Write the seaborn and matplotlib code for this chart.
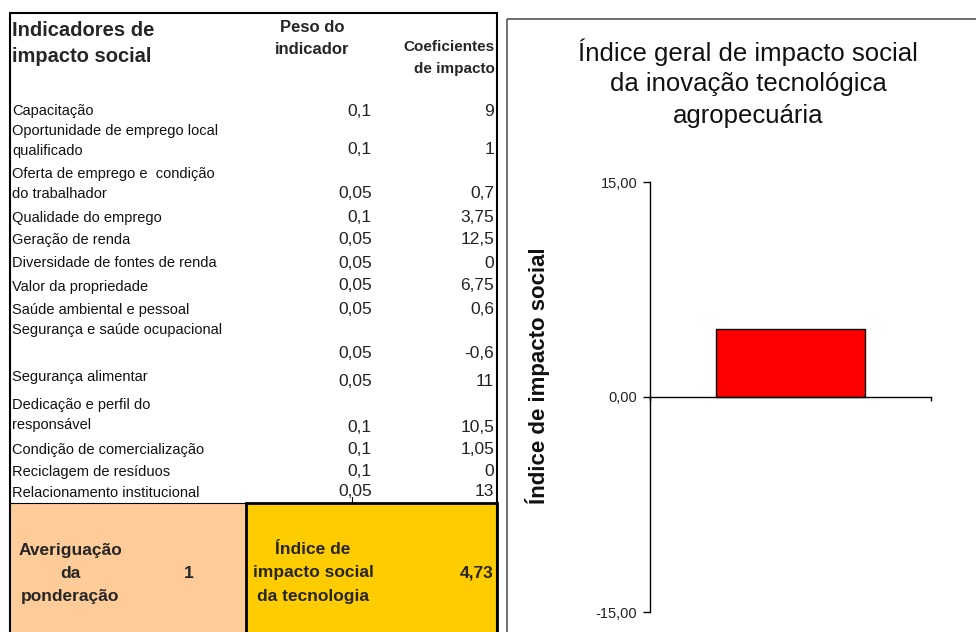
import matplotlib
matplotlib.use("Agg")
import matplotlib.pyplot as plt
import seaborn as sns
from matplotlib.patches import Rectangle
from matplotlib.ticker import FuncFormatter

sns.set_theme(style="white")
plt.rcParams["font.family"] = ["Liberation Sans", "DejaVu Sans"]

# --- data ---
indicators = [
    "Capacitação",
    "Oportunidade de emprego local\nqualificado",
    "Oferta de emprego e  condição\ndo trabalhador",
    "Qualidade do emprego",
    "Geração de renda",
    "Diversidade de fontes de renda",
    "Valor da propriedade",
    "Saúde ambiental e pessoal",
    "Segurança e saúde ocupacional",
    "Segurança alimentar",
    "Dedicação e perfil do\nresponsável",
    "Condição de comercialização",
    "Reciclagem de resíduos",
    "Relacionamento institucional",
]
weights = ["0,1", "0,1", "0,05", "0,1", "0,05", "0,05", "0,05",
           "0,05", "0,05", "0,05", "0,1", "0,1", "0,1", "0,05"]
coefficients = ["9", "1", "0,7", "3,75", "12,5", "0", "6,75",
                "0,6", "-0,6", "11", "10,5", "1,05", "0", "13"]
weight_total = "1"
index_label = "4,73"

bar_category = ["Tecnologia"]
bar_value = [4.73]
y_ticks = [-15, 0, 15]

# --- layout (pixel rows of the table) ---
label_y = [111, 131, 174, 218, 240, 263, 287, 310, 330, 377, 405, 450, 472, 493]
value_y = [111, 150, 194, 218, 240, 263, 286, 310, 353, 381, 427, 449, 471, 491]

W, H = 976, 632
fig = plt.figure(figsize=(W / 100, H / 100), dpi=100)
fig.patch.set_facecolor("white")

bg = fig.add_axes([0, 0, 1, 1], zorder=0)
bg.set_xlim(0, W)
bg.set_ylim(H, 0)
bg.axis("off")

# table frame and bottom cells
bg.add_patch(Rectangle((10, 503), 236, 140, facecolor="#FFCC99", edgecolor="none"))
bg.add_patch(Rectangle((246, 503), 251, 140, facecolor="#FFCC00",
                       edgecolor="black", linewidth=2))
bg.plot([10, 10], [13, 640], color="black", lw=1.5)
bg.plot([10, 497], [13, 13], color="black", lw=1.5)
bg.plot([497, 497], [13, 640], color="black", lw=1.5)
bg.plot([10, 246], [503, 503], color="black", lw=0.8)
bg.plot([352, 352], [497, 503], color="black", lw=0.8)

# header
bg.text(12, 30, "Indicadores de", fontsize=14.5, fontweight="bold", va="center")
bg.text(12, 56, "impacto social", fontsize=14.5, fontweight="bold", va="center")
bg.text(312, 27, "Peso do", fontsize=12, fontweight="bold", va="center", ha="center")
bg.text(312, 50, "indicador", fontsize=12, fontweight="bold", va="center", ha="center")
bg.text(495, 47, "Coeficientes", fontsize=11, fontweight="bold", va="center", ha="right")
bg.text(495, 69, "de impacto", fontsize=11, fontweight="bold", va="center", ha="right")

# rows
for name, w, c, ly, vy in zip(indicators, weights, coefficients, label_y, value_y):
    for k, line in enumerate(name.split("\n")):
        bg.text(12, ly + 20 * k, line, fontsize=10.5, va="center", color="#111")
    bg.text(372, vy, w, fontsize=12.5, va="center", ha="right", color="#222")
    bg.text(494, vy, c, fontsize=12.5, va="center", ha="right", color="#222")

# bottom cells text
for k, line in enumerate(["Averiguação", "da", "ponderação"]):
    bg.text(70, 550 + 23 * k, line, fontsize=12.5, fontweight="bold", ha="center", va="center")
bg.text(189, 573, weight_total, fontsize=12.5, fontweight="bold", ha="center", va="center")
for k, line in enumerate(["Índice de", "impacto social", "da tecnologia"]):
    bg.text(313, 550 + 23 * k, line, fontsize=12.5, fontweight="bold", ha="center", va="center")
bg.text(494, 573, index_label, fontsize=12.5, fontweight="bold", ha="right", va="center")

# chart frame, title and y label
bg.add_patch(Rectangle((507, 19), 520, 700, facecolor="none", edgecolor="#555", lw=1.2))
for k, line in enumerate(["Índice geral de impacto social",
                          "da inovação tecnológica", "agropecuária"]):
    bg.text(748, 52 + 32 * k, line, fontsize=18.5, ha="center", va="center", color="#111")
bg.text(537, 376, "Índice de impacto social", fontsize=16, fontweight="bold",
        rotation=90, ha="center", va="center", color="#111")

# bar chart
ax = fig.add_axes([650 / W, (H - 612) / H, 281 / W, 430 / H], zorder=1)
ax.patch.set_alpha(0)
sns.barplot(x=bar_category, y=bar_value, color="#FF0000", saturation=1,
            edgecolor="black", linewidth=1, width=0.527, ax=ax)
ax.set_xlim(-0.5, 0.5)
ax.set_ylim(-15, 15)
ax.set_yticks(y_ticks)
ax.yaxis.set_major_formatter(FuncFormatter(lambda v, p: f"{v:.2f}".replace(".", ",")))
ax.set_xticks([-0.5, 0.5])
ax.set_xticklabels(["", ""])
ax.set_xlabel("")
ax.set_ylabel("")
for side in ["top", "right"]:
    ax.spines[side].set_visible(False)
ax.spines["bottom"].set_position(("data", 0))
ax.spines["left"].set_color("black")
ax.spines["bottom"].set_color("black")
ax.spines["left"].set_linewidth(1)
ax.spines["bottom"].set_linewidth(1)
ax.tick_params(axis="y", direction="out", length=5, width=1, color="black",
               labelsize=10.5, labelcolor="#222", pad=4, left=True)
ax.tick_params(axis="x", direction="out", length=3, width=1, color="black", bottom=True)

fig.savefig("out.png", dpi=100)
